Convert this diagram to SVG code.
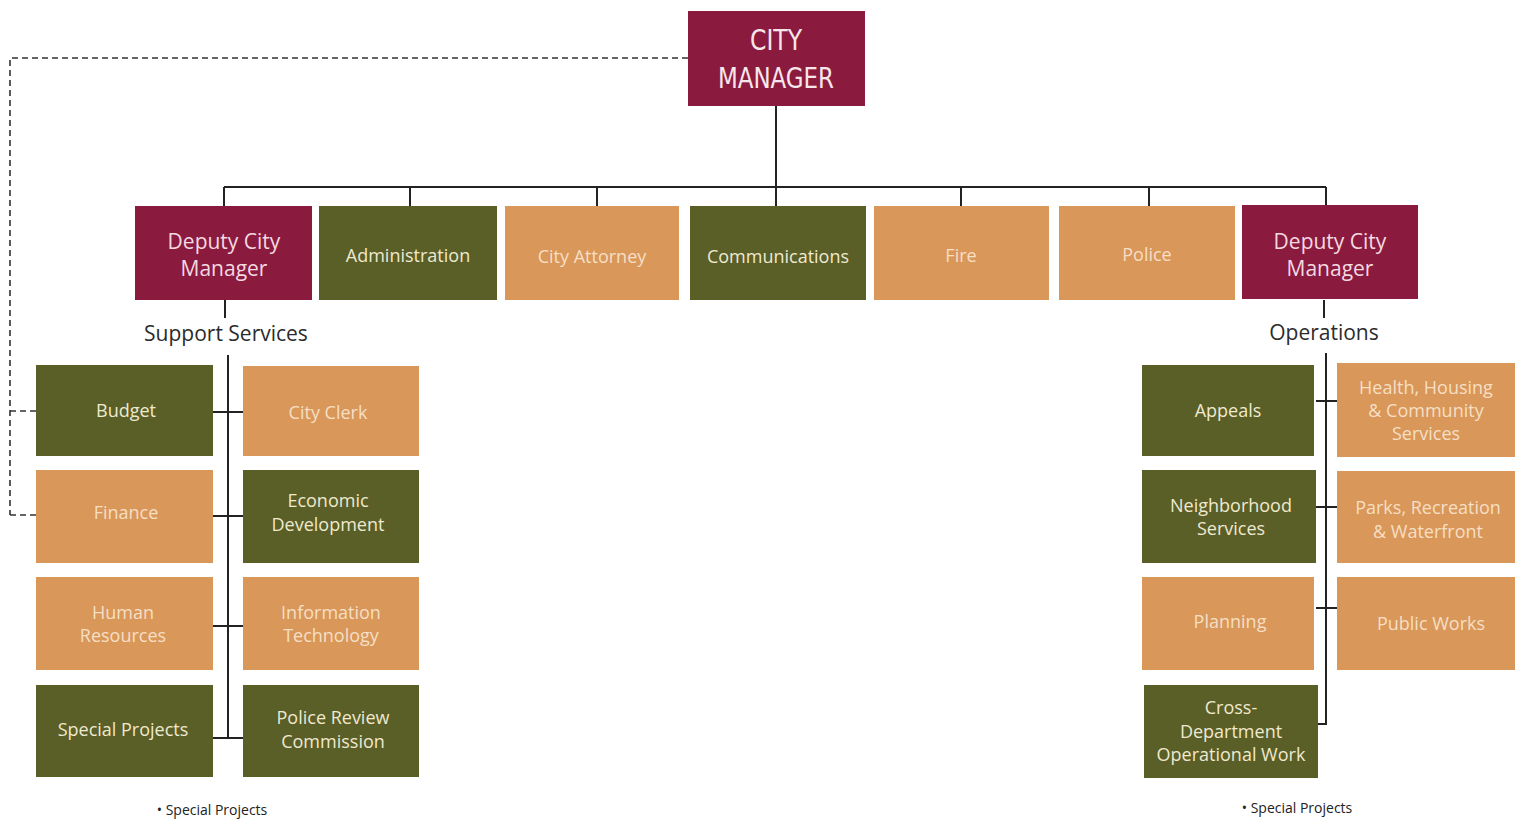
<svg xmlns="http://www.w3.org/2000/svg" width="1527" height="823" viewBox="0 0 1527 823">
<style>
.crim{fill:#8b1a3f}
.grn{fill:#5a5e27}
.org{fill:#d9975a}
.t{font-family:"Open Sans","Noto Sans",sans-serif;font-size:18px;text-anchor:middle}
.tg{fill:#efe9cf}
.to{fill:#f6dfc4}
.td{fill:#f3d9e0;font-size:21px}
.lbl{font-family:"Open Sans","Noto Sans",sans-serif;font-size:21px;fill:#2b2b2b;text-anchor:middle}
.note{font-family:"Open Sans","Noto Sans",sans-serif;font-size:14px;fill:#222;text-anchor:middle}
.ln{stroke:#222;stroke-width:2;fill:none}
.dash{stroke:#333;stroke-width:1.6;fill:none;stroke-dasharray:6 4}
</style>
<rect width="1527" height="823" fill="#ffffff"/>
<g id="connectors">
<path class="ln" d="M776 106V187M224 187H1326M224 187V206M410 187V206M597 187V206M776 187V206M961 187V206M1149 187V206M1326 187V206"/>
<path class="ln" d="M225 300V318M228 355V738M213 412H243M213 516H243M213 626H243M213 738H243"/>
<path class="ln" d="M1324 300V318M1326 353V724H1318M1316 401H1338M1316 507H1338M1316 608H1338"/>
<path class="dash" d="M688 58H10V515M10 411H36M10 515H36"/>
</g>
<g id="city-manager">
<rect class="crim" x="688" y="11" width="177" height="95"/>
<text x="776" y="50" font-family="'DejaVu Sans Condensed','DejaVu Sans',sans-serif" font-size="28" fill="#f6e6ea" text-anchor="middle" textLength="52" lengthAdjust="spacingAndGlyphs">CITY</text>
<text x="776" y="88" font-family="'DejaVu Sans Condensed','DejaVu Sans',sans-serif" font-size="28" fill="#f6e6ea" text-anchor="middle" textLength="116" lengthAdjust="spacingAndGlyphs">MANAGER</text>
</g>
<g id="dcm-support">
<rect class="crim" x="135" y="206" width="177" height="94"/>
<text class="t td" x="224" y="249">Deputy City</text>
<text class="t td" x="224" y="276">Manager</text>
</g>
<g id="administration"><rect class="grn" x="319" y="206" width="178" height="94"/><text class="t tg" x="408" y="262">Administration</text></g>
<g id="city-attorney"><rect class="org" x="505" y="206" width="174" height="94"/><text class="t to" x="592" y="263">City Attorney</text></g>
<g id="communications"><rect class="grn" x="690" y="206" width="176" height="94"/><text class="t tg" x="778" y="263">Communications</text></g>
<g id="fire"><rect class="org" x="874" y="206" width="175" height="94"/><text class="t to" x="961" y="262">Fire</text></g>
<g id="police"><rect class="org" x="1059" y="206" width="176" height="94"/><text class="t to" x="1147" y="261">Police</text></g>
<g id="dcm-operations">
<rect class="crim" x="1242" y="205" width="176" height="94"/>
<text class="t td" x="1330" y="249">Deputy City</text>
<text class="t td" x="1330" y="276">Manager</text>
</g>
<g id="support-services-label"><text class="lbl" x="226" y="341">Support Services</text></g>
<g id="operations-label"><text class="lbl" x="1324" y="340">Operations</text></g>
<g id="budget"><rect class="grn" x="36" y="365" width="177" height="91"/><text class="t tg" x="126" y="417">Budget</text></g>
<g id="city-clerk"><rect class="org" x="243" y="366" width="176" height="90"/><text class="t to" x="328" y="419">City Clerk</text></g>
<g id="finance"><rect class="org" x="36" y="470" width="177" height="93"/><text class="t to" x="126" y="519">Finance</text></g>
<g id="economic-development"><rect class="grn" x="243" y="470" width="176" height="93"/><text class="t tg" x="328" y="507">Economic</text><text class="t tg" x="328" y="531">Development</text></g>
<g id="human-resources"><rect class="org" x="36" y="577" width="177" height="93"/><text class="t to" x="123" y="619">Human</text><text class="t to" x="123" y="642">Resources</text></g>
<g id="information-technology"><rect class="org" x="243" y="577" width="176" height="93"/><text class="t to" x="331" y="619">Information</text><text class="t to" x="331" y="642">Technology</text></g>
<g id="special-projects"><rect class="grn" x="36" y="685" width="177" height="92"/><text class="t tg" x="123" y="736">Special Projects</text></g>
<g id="police-review-commission"><rect class="grn" x="243" y="685" width="176" height="92"/><text class="t tg" x="333" y="724">Police Review</text><text class="t tg" x="333" y="748">Commission</text></g>
<g id="note-left"><text class="note" x="212" y="815">• Special Projects</text></g>
<g id="appeals"><rect class="grn" x="1142" y="365" width="172" height="91"/><text class="t tg" x="1228" y="417">Appeals</text></g>
<g id="health-housing"><rect class="org" x="1337" y="363" width="178" height="94"/><text class="t to" x="1426" y="394">Health, Housing</text><text class="t to" x="1426" y="417">&amp; Community</text><text class="t to" x="1426" y="440">Services</text></g>
<g id="neighborhood-services"><rect class="grn" x="1142" y="470" width="174" height="93"/><text class="t tg" x="1231" y="512">Neighborhood</text><text class="t tg" x="1231" y="535">Services</text></g>
<g id="parks-recreation"><rect class="org" x="1337" y="471" width="178" height="92"/><text class="t to" x="1428" y="514">Parks, Recreation</text><text class="t to" x="1428" y="538">&amp; Waterfront</text></g>
<g id="planning"><rect class="org" x="1142" y="577" width="172" height="93"/><text class="t to" x="1230" y="628">Planning</text></g>
<g id="public-works"><rect class="org" x="1337" y="577" width="178" height="93"/><text class="t to" x="1431" y="630">Public Works</text></g>
<g id="cross-department"><rect class="grn" x="1144" y="685" width="174" height="93"/><text class="t tg" x="1231" y="714">Cross-</text><text class="t tg" x="1231" y="738">Department</text><text class="t tg" x="1231" y="761">Operational Work</text></g>
<g id="note-right"><text class="note" x="1297" y="813">• Special Projects</text></g>
</svg>
